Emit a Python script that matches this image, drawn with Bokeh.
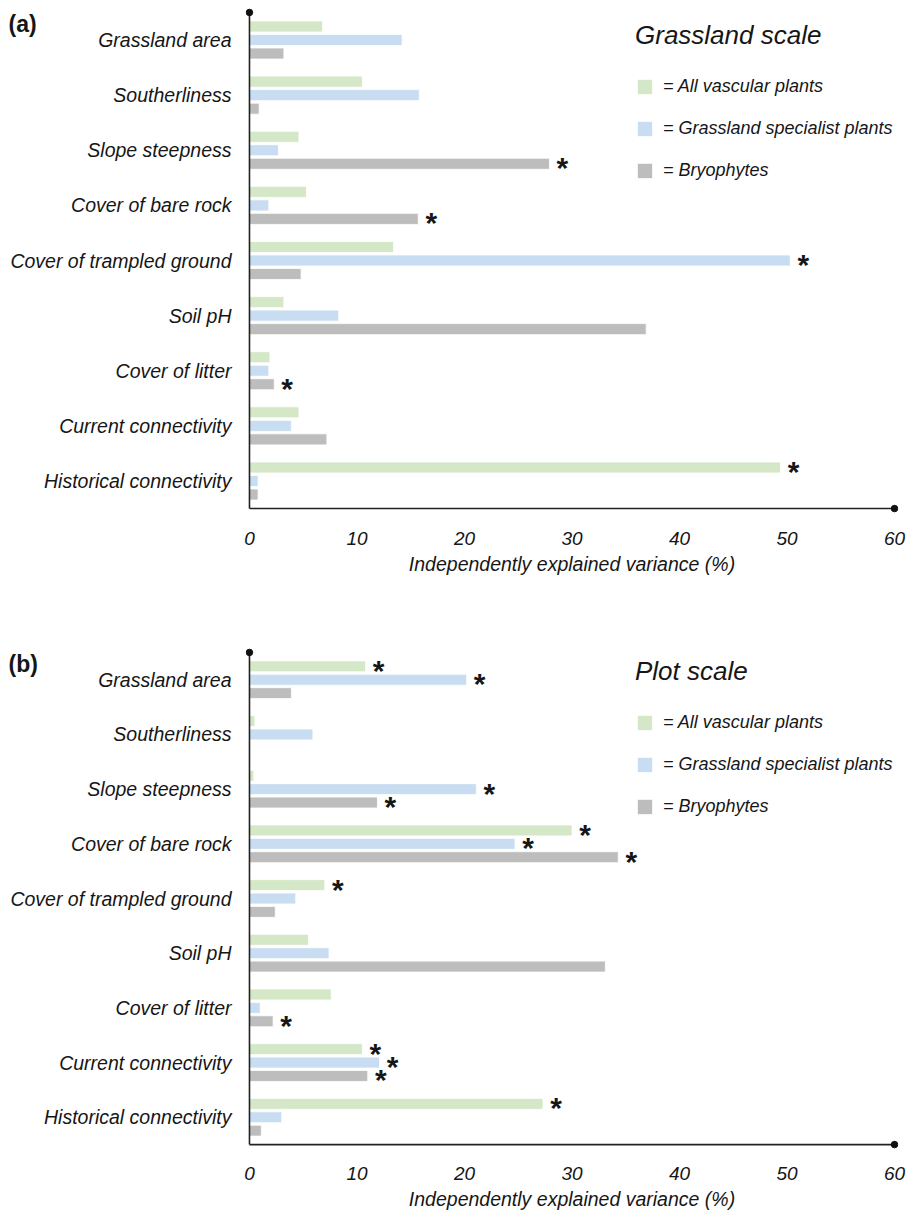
from bokeh.plotting import figure
from bokeh.models import (FactorRange, Range1d, FixedTicker, Legend, LegendItem, Label,
                          ColumnDataSource)
from bokeh.transform import dodge
from bokeh.layouts import column
from bokeh.embed import file_html
from bokeh.resources import INLINE
from bokeh.core.properties import value

categories = ["Grassland area", "Southerliness", "Slope steepness", "Cover of bare rock",
              "Cover of trampled ground", "Soil pH", "Cover of litter",
              "Current connectivity", "Historical connectivity"]
series_labels = ["= All vascular plants", "= Grassland specialist plants", "= Bryophytes"]
x_ticks = [0, 10, 20, 30, 40, 50, 60]
x_title = "Independently explained variance (%)"

# Panel (a): grassland scale
a_vascular = [6.8, 10.5, 4.6, 5.3, 13.4, 3.2, 1.9, 4.6, 49.4]
a_specialist = [14.2, 15.8, 2.7, 1.8, 50.3, 8.3, 1.8, 3.9, 0.8]
a_bryophytes = [3.2, 0.9, 27.9, 15.7, 4.8, 36.9, 2.3, 7.2, 0.8]
a_sig_vascular = [0, 0, 0, 0, 0, 0, 0, 0, 1]
a_sig_specialist = [0, 0, 0, 0, 1, 0, 0, 0, 0]
a_sig_bryophytes = [0, 0, 1, 1, 0, 0, 1, 0, 0]

# Panel (b): plot scale
b_vascular = [10.8, 0.5, 0.4, 30.0, 7.0, 5.5, 7.6, 10.5, 27.3]
b_specialist = [20.2, 5.9, 21.1, 24.7, 4.3, 7.4, 1.0, 12.1, 3.0]
b_bryophytes = [3.9, 0.0, 11.9, 34.3, 2.4, 33.1, 2.2, 11.0, 1.1]
b_sig_vascular = [1, 0, 0, 1, 1, 0, 0, 1, 1]
b_sig_specialist = [1, 0, 1, 1, 0, 0, 0, 1, 0]
b_sig_bryophytes = [0, 0, 1, 1, 0, 0, 1, 1, 0]

COLORS = ["#D4E7C7", "#C8DDF1", "#BEBDBD"]
OFFSETS = [0.245, 0.0, -0.245]
FONT = "Liberation Sans"
INK = "#161616"
FRAME_H = 508


def make_panel(tag, title, vals, sigs, height, top_border, bottom_border,
               lab_standoff, title_standoff, tag_place):
    n = len(categories)
    p = figure(width=923, height=height, output_backend="svg", toolbar_location=None,
               x_range=Range1d(-0.37, 60.37),
               y_range=FactorRange(*categories[::-1], range_padding=0.108,
                                   range_padding_units="absolute"),
               min_border_left=245, min_border_right=25, min_border_top=top_border,
               min_border_bottom=bottom_border)
    p.outline_line_color = None
    p.xgrid.visible = False
    p.ygrid.visible = False
    p.background_fill_color = "white"
    p.border_fill_color = "white"

    src = ColumnDataSource(dict(cat=categories, v0=vals[0], v1=vals[1], v2=vals[2]))
    renderers = []
    for i in range(3):
        r = p.hbar(y=dodge("cat", OFFSETS[i], range=p.y_range), left=0, right="v%d" % i,
                   height=0.2, source=src, fill_color=COLORS[i], line_color="white",
                   line_width=0.8)
        renderers.append(r)
        xs = [v for v, s in zip(vals[i], sigs[i]) if s]
        cs = [c for c, s in zip(categories, sigs[i]) if s]
        if xs:
            s2 = ColumnDataSource(dict(x=xs, cat=cs))
            p.text(x="x", y=dodge("cat", OFFSETS[i], range=p.y_range), text=value("*"),
                   source=s2, x_offset=13, y_offset=4, text_align="center",
                   text_baseline="middle", text_font=value(FONT), text_font_style="bold",
                   text_font_size="30px", text_color=INK)

    # axis lines with end dots
    p.segment(x0=[0, 0], y0=[0, 0], x1=[0, 60], y1=[n, 0], line_color="#222222",
              line_width=1.6)
    p.scatter(x=[0, 60], y=[n, 0], size=6.5, color="#111111")

    xa = p.xaxis[0]
    xa.ticker = FixedTicker(ticks=x_ticks)
    xa.axis_line_color = None
    xa.major_tick_line_color = None
    xa.minor_tick_line_color = None
    xa.major_label_text_font = FONT
    xa.major_label_text_font_style = "italic"
    xa.major_label_text_font_size = "19px"
    xa.major_label_text_color = INK
    xa.major_label_standoff = lab_standoff
    xa.axis_label = x_title
    xa.axis_label_text_font = FONT
    xa.axis_label_text_font_style = "italic"
    xa.axis_label_text_font_size = "19.5px"
    xa.axis_label_text_color = INK
    xa.axis_label_standoff = title_standoff

    ya = p.yaxis[0]
    ya.axis_line_color = None
    ya.major_tick_line_color = None
    ya.minor_tick_line_color = None
    ya.major_label_text_font = FONT
    ya.major_label_text_font_style = "italic"
    ya.major_label_text_font_size = "19.5px"
    ya.major_label_text_color = INK
    ya.major_label_standoff = 8

    items = [LegendItem(label=series_labels[i], renderers=[renderers[i]]) for i in range(3)]
    leg = Legend(items=items, location=(390, 333), title=title,
                 title_text_font=FONT, title_text_font_style="italic",
                 title_text_font_size="26px", title_text_color=INK, title_standoff=25,
                 label_text_font=FONT, label_text_font_style="italic",
                 label_text_font_size="18px", label_text_color=INK,
                 glyph_width=19, glyph_height=19, label_standoff=9, spacing=21,
                 padding=0, margin=0, border_line_color=None, background_fill_alpha=0)
    p.add_layout(leg)

    # panel tag in a side panel (not clipped to the frame), positioned via the data scales
    lab = Label(x=0, y=n, x_offset=-241, y_offset=-12, text=tag,
                text_font=FONT, text_font_style="bold", text_font_size="23px",
                text_color=INK, text_align="left", text_baseline="middle")
    p.add_layout(lab, tag_place)
    return p


pa = make_panel("(a)", "Grassland scale",
                [a_vascular, a_specialist, a_bryophytes],
                [a_sig_vascular, a_sig_specialist, a_sig_bryophytes],
                620, 6, 106, 11, 5, "below")
pb = make_panel("(b)", "Plot scale",
                [b_vascular, b_specialist, b_bryophytes],
                [b_sig_vascular, b_sig_specialist, b_sig_bryophytes],
                592, 26, 58, 10, 5, "above")

layout = column(pa, pb, spacing=0)
open("out.html", "w").write(file_html(layout, INLINE))
